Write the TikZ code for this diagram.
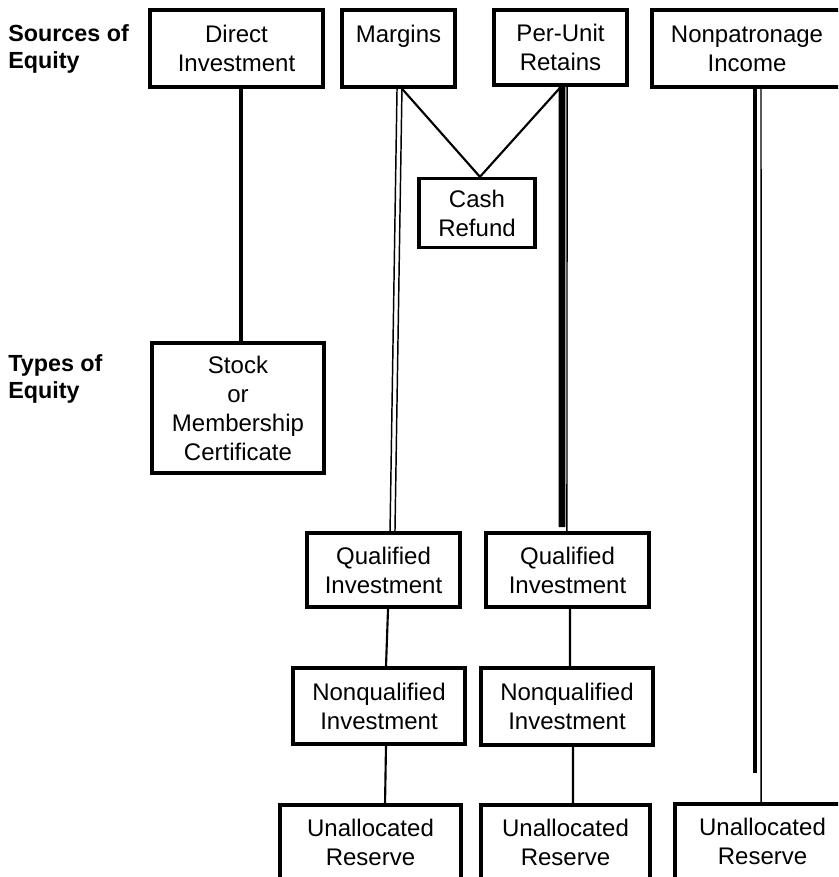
\documentclass[tikz,border=0pt]{standalone}
\usepackage{fontspec}
\setmainfont{Liberation Sans}
\newcommand{\boxfont}{\fontsize{18}{21.75}\selectfont}
\newcommand{\labfont}{\fontsize{17.5}{20.5}\selectfont\bfseries}
\begin{document}
\begin{tikzpicture}[x=0.75pt,y=-0.75pt,
  box/.style={draw, line width=2.5pt, inner sep=0pt, align=center, font=\boxfont},
  wh/.style 2 args={minimum width=#1*0.75pt, minimum height=#2*0.75pt},
  lab/.style={anchor=north west, inner sep=0pt, align=left, font=\labfont},
  conn/.style={line width=1.6pt},
  hair/.style={line width=1.1pt},
  heavy/.style={line width=2.4pt},
  bar/.style={line width=#1}]
\clip (0,0) rectangle (838,877);
\fill[white] (0,0) rectangle (838,877);

% row labels
\node[lab] (src) at (8,24) {Sources of\\Equity};
\node[lab] (typ) at (8,354) {Types of\\Equity};

% sources
\node[box, wh={173}{77}] (di) at (236.5,48.5) {Direct\\Investment};
\node[box, wh={113}{77}] (mg) at (398.5,48.5) {Margins\\[0pt]\phantom{I}};
\node[box, wh={133}{75}] (pu) at (560.5,47.5) {Per-Unit\\Retains};
\node[box, wh={190}{77}] (np) at (747,48.5) {Nonpatronage\\Income};

% middle
\node[box, wh={116}{69}] (cr) at (477,213) {Cash\\Refund};
\node[box, wh={172}{130}] (st) at (238,408) {Stock\\or\\Membership\\Certificate};

% types
\node[box, wh={153}{74}] (ql) at (383.5,570) {Qualified\\Investment};
\node[box, wh={163}{74}] (qr) at (567.5,570) {Qualified\\Investment};
\node[box, wh={172}{76}] (nql) at (379,706) {Nonqualified\\Investment};
\node[box, wh={172}{77}] (nqr) at (567,706.5) {Nonqualified\\Investment};
\node[box, wh={181}{75}] (ul) at (370.5,842.5) {Unallocated\\Reserve};
\node[box, wh={169}{75}] (um) at (565.5,842.5) {Unallocated\\Reserve};
\node[box, wh={175}{75}] (ur) at (762.5,841.5) {Unallocated\\Reserve};

% free ends of the heavy bars
\coordinate (pub) at (562,527);
\coordinate (npb) at (755,773);

% connectors
\draw[heavy] ([xshift=3.4pt]di.south) -- ([xshift=3.4pt]di.south |- st.north);

\draw[hair] ([xshift=-1.1pt]mg.south) -- ([xshift=4.9pt]ql.north);
\draw[hair] ([xshift=2.6pt]mg.south) -- ([xshift=8.6pt]ql.north);

\draw[conn, line join=miter] ([xshift=2.6pt]mg.south) -- ([xshift=2.2pt]cr.north) -- ([xshift=0.4pt]pu.south);

\draw[bar=5pt] ([xshift=1.1pt]pu.south) -- (pub);
\draw[hair] ([xshift=4.9pt]pu.south) -- ([xshift=-0.4pt]qr.north);

\draw[bar=3.6pt] ([xshift=6pt]np.south) -- (npb);
\draw[hair] ([xshift=10.5pt]np.south) -- ([xshift=-1.1pt]ur.north);

\draw[conn] ([xshift=3.4pt]ql.south) -- ([xshift=5.25pt]nql.north);
\draw[conn] ([xshift=5.25pt]nql.south) -- ([xshift=10.9pt]ul.north);
\draw[conn] ([xshift=1.9pt]qr.south) -- ([xshift=2.25pt]nqr.north);
\draw[conn] ([xshift=4.5pt]nqr.south) -- ([xshift=5.6pt]um.north);
\end{tikzpicture}
\end{document}
